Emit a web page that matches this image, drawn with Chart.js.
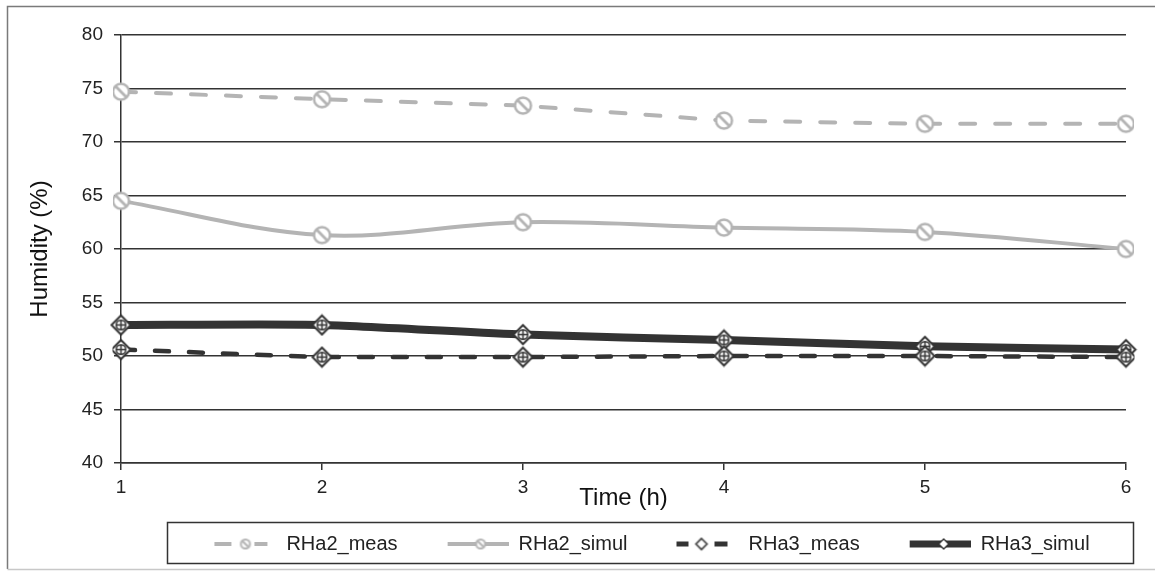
<!DOCTYPE html>
<html>
<head>
<meta charset="utf-8">
<script src="https://cdn.jsdelivr.net/npm/chart.js@4"></script>
<style>
  html, body { margin: 0; padding: 0; background: #fff; }
  #wrap { width: 1155px; height: 572px; }
</style>
</head>
<body>
<div id="wrap"><canvas id="lineChart"></canvas></div>
<script>
const hours = ['1', '2', '3', '4', '5', '6'];
const rha2Meas = [74.7, 74.0, 73.4, 72.0, 71.7, 71.7];
const rha2Simul = [64.5, 61.3, 62.5, 62.0, 61.6, 60.0];
const rha3Meas = [50.6, 49.9, 49.9, 50.0, 50.0, 49.9];
const rha3Simul = [52.9, 52.9, 52.0, 51.5, 50.9, 50.6];

const LIGHT = '#b4b4b4';
const DARK = '#333333';
const FONT = 'Liberation Sans, Arial, sans-serif';

// circle with a slash, white inside
function circleMark(r, color, lw) {
  const c = document.createElement('canvas');
  const s = Math.ceil(2 * r + lw + 2);
  c.width = s; c.height = s;
  const g = c.getContext('2d');
  g.translate(s / 2, s / 2);
  g.beginPath();
  g.arc(0, 0, r, 0, Math.PI * 2);
  g.fillStyle = '#fff';
  g.fill();
  g.lineWidth = lw;
  g.strokeStyle = color;
  g.stroke();
  const d = r * 0.68;
  g.beginPath();
  g.moveTo(-d, -d);
  g.lineTo(d, d);
  g.lineWidth = lw * 1.1;
  g.stroke();
  return c;
}

// diamond with a crossed circle inside
function diamondMark(r, color, lw, inner) {
  const c = document.createElement('canvas');
  const s = Math.ceil(2 * r + lw + 2);
  c.width = s; c.height = s;
  const g = c.getContext('2d');
  g.translate(s / 2, s / 2);
  g.beginPath();
  g.moveTo(0, -r); g.lineTo(r, 0); g.lineTo(0, r); g.lineTo(-r, 0);
  g.closePath();
  g.fillStyle = '#fff';
  g.fill();
  g.lineWidth = lw;
  g.strokeStyle = color;
  g.stroke();
  if (inner) {
    const cr = r * 0.5;
    g.beginPath();
    g.arc(0, 0, cr, 0, Math.PI * 2);
    g.moveTo(-cr, 0); g.lineTo(cr, 0);
    g.moveTo(0, -cr); g.lineTo(0, cr);
    g.lineWidth = lw * 0.75;
    g.stroke();
  }
  return c;
}

// legend sample: segments [from, to] plus a marker at mx
const SAMPLE_W = 101;
function legendSample(color, lineW, segs, mx, mark) {
  const c = document.createElement('canvas');
  c.width = SAMPLE_W; c.height = 20;
  const g = c.getContext('2d');
  g.strokeStyle = color;
  g.lineWidth = lineW;
  g.beginPath();
  segs.forEach(s => { g.moveTo(s[0], 10); g.lineTo(s[1], 10); });
  g.stroke();
  g.drawImage(mark, mx - mark.width / 2, 10 - mark.height / 2);
  return c;
}

const samples = [
  legendSample(LIGHT, 4, [[39, 56], [79, 92]], 70, circleMark(4.5, LIGHT, 2)),
  legendSample(LIGHT, 4, [[40, 101]], 73, circleMark(4.5, LIGHT, 2)),
  legendSample(DARK, 5, [[39, 51], [77, 90]], 64, diamondMark(5.5, DARK, 1.6, false)),
  legendSample(DARK, 7, [[40, 101]], 74, diamondMark(5, DARK, 1.4, false))
];

const LEGEND_SHIFT = 9;

const frame = {
  id: 'frame',
  afterLayout(chart) {
    chart.legend.left += LEGEND_SHIFT;
    chart.legend.right += LEGEND_SHIFT;
  },
  beforeDraw(chart) {
    const g = chart.ctx;
    g.save();
    g.fillStyle = '#fff';
    g.fillRect(0, 0, chart.width, chart.height);
    g.strokeStyle = '#7a7a7a';
    g.lineWidth = 1.5;
    g.beginPath();
    g.moveTo(7.5, 569); g.lineTo(7.5, 6.5); g.lineTo(chart.width, 6.5);
    g.stroke();
    g.strokeStyle = '#c8c8c8';
    g.beginPath();
    g.moveTo(7.5, 569.5); g.lineTo(chart.width, 569.5);
    g.stroke();
    g.restore();
  },
  afterDraw(chart) {
    const a = chart.chartArea;
    const g = chart.ctx;
    g.save();
    g.strokeStyle = '#333';
    g.lineWidth = 1.5;
    g.strokeRect(a.left + 46.5, 522.5, a.right - a.left - 39, 41);
    g.restore();
  }
};

new Chart(document.getElementById('lineChart'), {
  type: 'line',
  data: {
    labels: hours,
    datasets: [
      {
        label: 'RHa2_meas',
        data: rha2Meas,
        borderColor: LIGHT,
        borderWidth: 4,
        borderDash: [15, 20],
        borderCapStyle: 'round',
        pointStyle: circleMark(8, LIGHT, 2.5),
        tension: 0
      },
      {
        label: 'RHa2_simul',
        data: rha2Simul,
        borderColor: LIGHT,
        borderWidth: 4,
        pointStyle: circleMark(8, LIGHT, 2.5),
        tension: 0.35
      },
      {
        label: 'RHa3_meas',
        data: rha3Meas,
        borderColor: DARK,
        borderWidth: 4.5,
        borderDash: [14, 20],
        borderCapStyle: 'round',
        pointStyle: diamondMark(9.5, DARK, 2, true),
        tension: 0
      },
      {
        label: 'RHa3_simul',
        data: rha3Simul,
        borderColor: DARK,
        borderWidth: 8,
        pointStyle: diamondMark(9.5, DARK, 2, true),
        tension: 0.2
      }
    ]
  },
  options: {
    responsive: true,
    maintainAspectRatio: false,
    animation: false,
    layout: { padding: { left: 8, top: 35, right: 29, bottom: 8 } },
    plugins: {
      tooltip: { enabled: false },
      legend: {
        position: 'bottom',
        fullSize: false,
        labels: {
          usePointStyle: true,
          pointStyleWidth: SAMPLE_W,
          padding: 10,
          color: '#222',
          font: { family: FONT, size: 20 },
          generateLabels(chart) {
            return chart.data.datasets.map((ds, i) => ({
              text: ds.label,
              pointStyle: samples[i],
              fontColor: '#222',
              lineWidth: 0,
              strokeStyle: 'transparent',
              fillStyle: 'transparent',
              hidden: false,
              datasetIndex: i
            }));
          }
        }
      }
    },
    scales: {
      x: {
        type: 'category',
        offset: false,
        afterFit(scale) { scale.height = 61; },
        grid: { display: true, drawOnChartArea: false, color: DARK, lineWidth: 1.5, tickLength: 7 },
        border: { display: true, color: DARK, width: 1.5 },
        ticks: { color: '#222', padding: 6, maxRotation: 0, font: { family: FONT, size: 19 } },
        title: {
          display: true,
          text: 'Time (h)',
          color: '#111',
          padding: { top: 0, bottom: 11 },
          font: { family: FONT, size: 24 }
        }
      },
      y: {
        min: 40,
        max: 80,
        afterFit(scale) { scale.width = 113; },
        grid: { color: DARK, lineWidth: 1.5, tickLength: 7 },
        border: { display: true, color: DARK, width: 1.5 },
        ticks: { stepSize: 5, color: '#222', padding: 11, font: { family: FONT, size: 19 } },
        title: {
          display: true,
          text: 'Humidity (%)',
          color: '#111',
          padding: { top: 18, bottom: 0 },
          font: { family: FONT, size: 24 }
        }
      }
    }
  },
  plugins: [frame]
});
</script>
</body>
</html>
